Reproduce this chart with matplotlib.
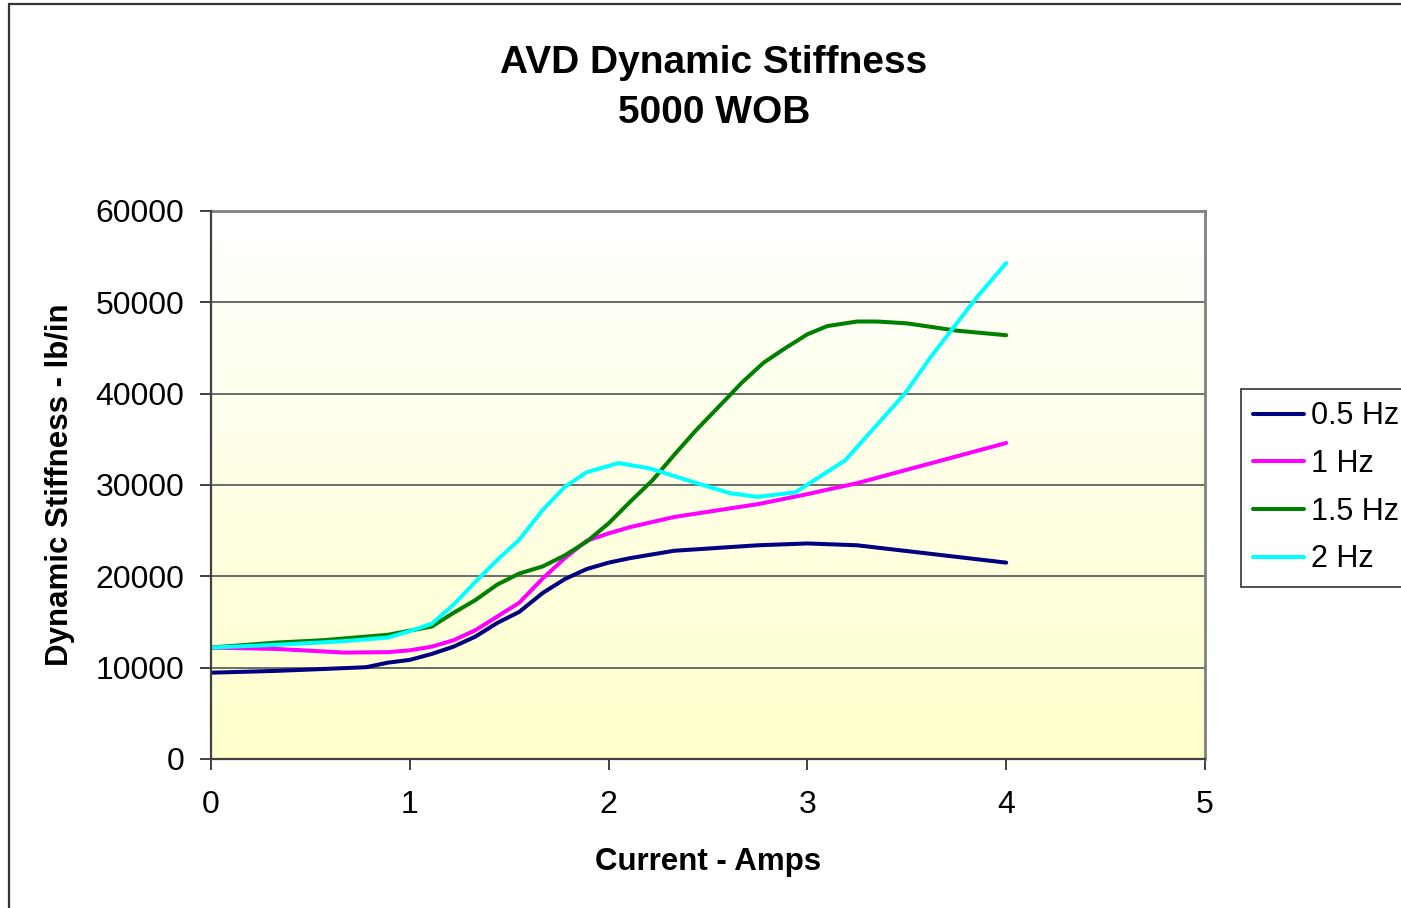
import numpy as np
import matplotlib
matplotlib.use("Agg")
import matplotlib.pyplot as plt
from matplotlib.patches import Rectangle

plt.rcParams['font.family'] = ['Liberation Sans', 'DejaVu Sans']

# Current (A) and dynamic stiffness (lb/in) for each excitation frequency
x_05 = [0, 0.33, 0.56, 0.78, 0.89, 1.0, 1.11, 1.22, 1.33, 1.44, 1.55, 1.67, 1.78,
        1.89, 2.0, 2.11, 2.33, 2.75, 3.0, 3.25, 4.0]
y_05 = [9450, 9650, 9850, 10050, 10550, 10850, 11500, 12300, 13400, 14900, 16100,
        18200, 19700, 20800, 21500, 22000, 22800, 23400, 23600, 23400, 21500]

x_1 = [0, 0.33, 0.67, 0.89, 1.0, 1.11, 1.22, 1.33, 1.44, 1.55, 1.67, 1.78, 1.89,
       2.0, 2.11, 2.33, 2.75, 3.0, 3.25, 4.0]
y_1 = [12200, 12050, 11650, 11700, 11900, 12300, 13000, 14100, 15600, 17100, 19800,
       22000, 23900, 24700, 25400, 26500, 27900, 29000, 30200, 34600]

x_15 = [0, 0.33, 0.56, 0.89, 1.11, 1.22, 1.33, 1.44, 1.55, 1.67, 1.78, 1.89, 2.0,
        2.11, 2.22, 2.33, 2.44, 2.56, 2.67, 2.78, 2.89, 3.0, 3.1, 3.25, 3.35, 3.5,
        3.75, 4.0]
y_15 = [12200, 12750, 13000, 13600, 14500, 16000, 17400, 19100, 20300, 21100, 22300,
        23800, 25800, 28200, 30500, 33300, 36000, 38700, 41200, 43400, 45000, 46500,
        47400, 47900, 47900, 47700, 46900, 46400]

x_2 = [0, 0.33, 0.67, 0.89, 1.0, 1.11, 1.22, 1.33, 1.44, 1.55, 1.67, 1.78, 1.89,
       2.05, 2.21, 2.4, 2.61, 2.75, 2.94, 3.19, 3.49, 3.62, 3.85, 4.0]
y_2 = [12200, 12500, 12900, 13300, 14000, 14800, 16900, 19400, 21800, 24000, 27300,
       29800, 31400, 32400, 31800, 30500, 29100, 28700, 29200, 32700, 40000, 44000,
       50500, 54300]

series = [
    ("0.5 Hz", x_05, y_05, "#000080"),
    ("1 Hz", x_1, y_1, "#FF00FF"),
    ("1.5 Hz", x_15, y_15, "#008000"),
    ("2 Hz", x_2, y_2, "#00FFFF"),
]

x_ticks = [0, 1, 2, 3, 4, 5]
y_ticks = [0, 10000, 20000, 30000, 40000, 50000, 60000]

W, H = 1401, 908
fig = plt.figure(figsize=(W / 100, H / 100), dpi=100)
fig.patch.set_facecolor("white")

# chart-area frame
fig.add_artist(Rectangle((9 / W, -0.1), 1.2, 1 - 4.5 / H + 0.1,
                         transform=fig.transFigure, fill=False,
                         edgecolor="#333333", linewidth=1.6))

ax = fig.add_axes([211 / W, 1 - 759 / H, (1205 - 211) / W, (759 - 211) / H])

# plot-area gradient: white at top fading to pale yellow at bottom
grad = np.linspace(0, 1, 256).reshape(-1, 1)
top = np.array([1.0, 1.0, 1.0])
bot = np.array([1.0, 1.0, 0.80])
img = top + (bot - top) * grad[..., None]
img = img.reshape(256, 1, 3)
ax.imshow(img, extent=[0, 5, 0, 60000], aspect="auto", origin="upper", zorder=0)

ax.set_xlim(0, 5)
ax.set_ylim(0, 60000)
ax.set_xticks(x_ticks)
ax.set_yticks(y_ticks)
ax.set_xticklabels([str(v) for v in x_ticks])
ax.set_yticklabels([str(v) for v in y_ticks])

for v in y_ticks[1:-1]:
    ax.axhline(v, color="#6a6a6a", linewidth=1.4, zorder=1)

for label, xs, ys, c in series:
    ax.plot(xs, ys, color=c, linewidth=2.9, label=label, zorder=3,
            solid_joinstyle="round", solid_capstyle="round")

for s in ["top", "right"]:
    ax.spines[s].set_color("#808080")
    ax.spines[s].set_linewidth(2.0)
for s in ["left", "bottom"]:
    ax.spines[s].set_color("#404040")
    ax.spines[s].set_linewidth(1.6)
    ax.spines[s].set_zorder(4)

ax.tick_params(axis="both", direction="out", length=8, width=1.4,
               color="#404040", labelsize=23, pad=11)
ax.tick_params(axis="x", pad=14)

ax.set_xlabel("Current - Amps", fontsize=22.5, fontweight="bold", labelpad=20)
ax.set_ylabel("Dynamic Stiffness - lb/in", fontsize=22.5, fontweight="bold",
              labelpad=15)

fig.text(714 / W, 1 - 63 / H, "AVD Dynamic Stiffness", ha="center", va="center",
         fontsize=28, fontweight="bold")
fig.text(714 / W, 1 - 113 / H, "5000 WOB", ha="center", va="center",
         fontsize=28, fontweight="bold")

leg = ax.legend(loc="upper left", bbox_to_anchor=(1241 / W, 1 - 389 / H),
                bbox_transform=fig.transFigure, fontsize=22, frameon=True,
                fancybox=False, framealpha=1, edgecolor="#333333",
                handlelength=1.65, handletextpad=0.25, labelspacing=0.58,
                borderpad=0.4, borderaxespad=0)
leg.get_frame().set_linewidth(1.2)

fig.savefig("out.png", dpi=100)
